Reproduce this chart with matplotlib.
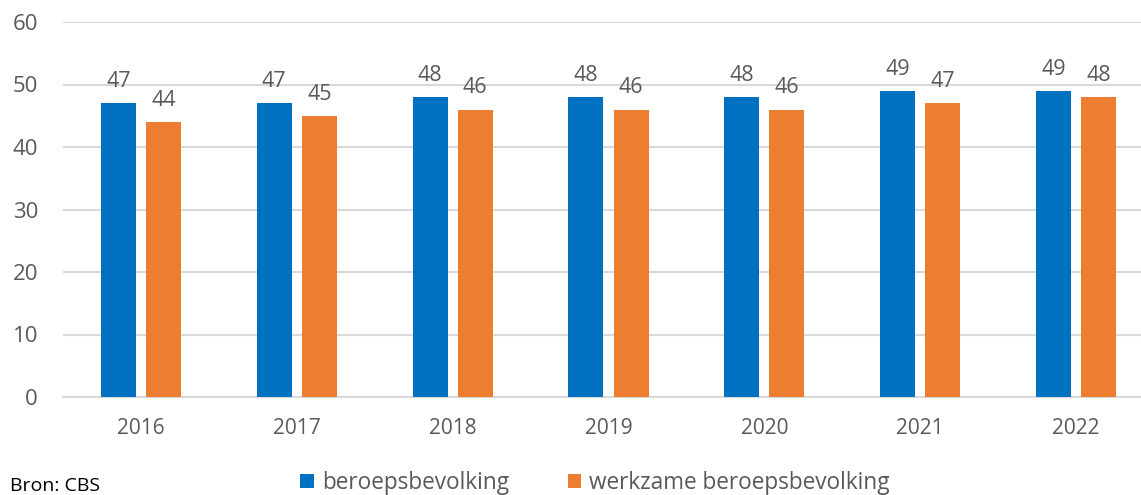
import matplotlib.pyplot as plt
import numpy as np

years = ['2016', '2017', '2018', '2019', '2020', '2021', '2022']
beroeps = [47, 47, 48, 48, 48, 49, 49]
werkzaam = [44, 45, 46, 46, 46, 47, 48]

blue = '#0070C0'
orange = '#ED7D31'
grey = '#595959'

plt.rcParams['font.family'] = ['Open Sans', 'DejaVu Sans']

fig = plt.figure(figsize=(11.41, 4.95), dpi=100)
# axes runs a little past the right edge, like the cropped original
ax = fig.add_axes([63/1141, 1 - 397/495, 1091/1141, 375/495])

x = np.arange(len(years))
w = 0.225
off = 0.145
b1 = ax.bar(x - off, beroeps, w, color=blue, label='beroepsbevolking', zorder=3)
b2 = ax.bar(x + off, werkzaam, w, color=orange, label='werkzame beroepsbevolking', zorder=3)
for bars in (b1, b2):
    ax.bar_label(bars, padding=8, fontsize=15.5, color=grey)

ax.set_xlim(-0.5, 6.5)
ax.set_ylim(0, 60)
ax.set_yticks(range(0, 61, 10))
ax.set_xticks(x)
ax.set_xticklabels(years)
ax.grid(axis='y', color='#D9D9D9', linewidth=1.5, zorder=0)
for s in ['top', 'right', 'left']:
    ax.spines[s].set_visible(False)
ax.spines['bottom'].set_color('#D9D9D9')
ax.spines['bottom'].set_linewidth(1.5)
ax.tick_params(axis='y', length=0, pad=18, labelsize=16, labelcolor=grey)
ax.tick_params(axis='x', length=0, pad=15, labelsize=15, labelcolor=grey)

fig.legend(loc='center', bbox_to_anchor=(595/1141, 1 - 483/495), ncol=2, frameon=False,
           fontsize=16.3, labelcolor=grey, handlelength=0.6, handleheight=0.6,
           handletextpad=0.35, columnspacing=2.6, borderpad=0)
fig.text(10/1141, 0, 'Bron: CBS', fontsize=14, color='black', va='bottom')

fig.savefig('out.png', dpi=100)
